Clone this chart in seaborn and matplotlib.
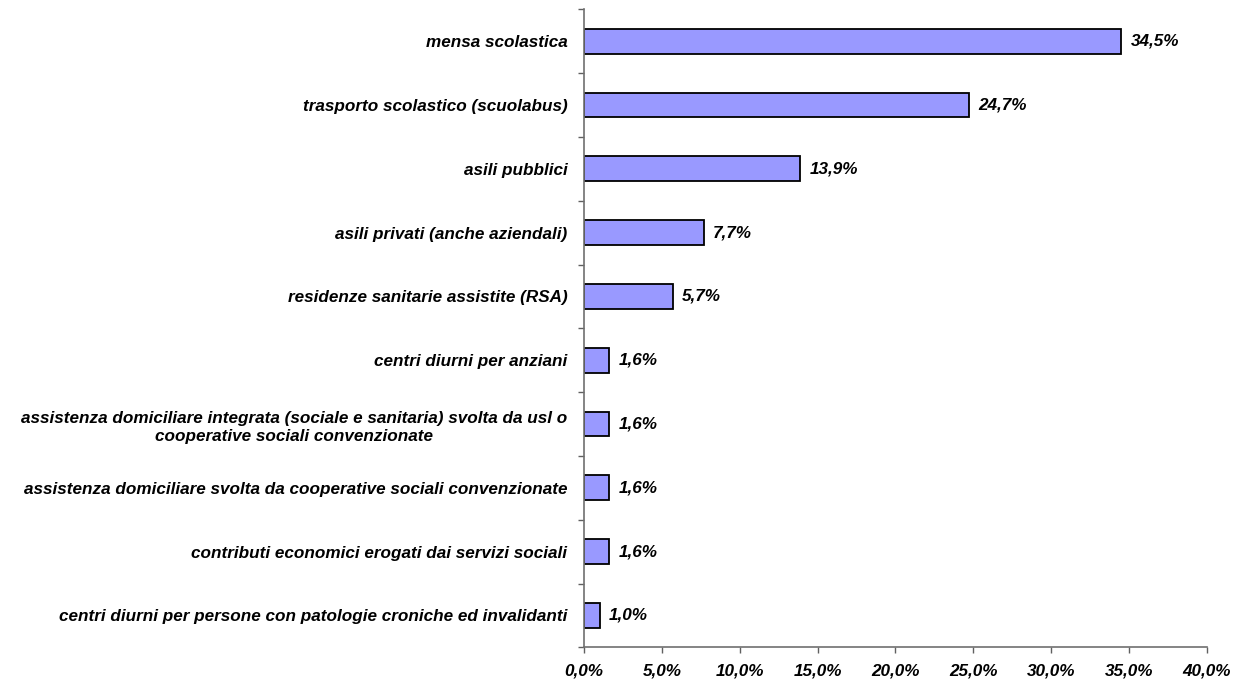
import matplotlib
matplotlib.use('Agg')
import matplotlib.pyplot as plt
from matplotlib.ticker import FuncFormatter, FixedLocator
import seaborn as sns
import pandas as pd

# Data
categories = [
    "mensa scolastica",
    "trasporto scolastico (scuolabus)",
    "asili pubblici",
    "asili privati (anche aziendali)",
    "residenze sanitarie assistite (RSA)",
    "centri diurni per anziani",
    "assistenza domiciliare integrata (sociale e sanitaria) svolta da usl o\ncooperative sociali convenzionate",
    "assistenza domiciliare svolta da cooperative sociali convenzionate",
    "contributi economici erogati dai servizi sociali",
    "centri diurni per persone con patologie croniche ed invalidanti",
]
values = [34.5, 24.7, 13.9, 7.7, 5.7, 1.6, 1.6, 1.6, 1.6, 1.0]

df = pd.DataFrame({"servizio": categories, "pct": values})

sns.set_style("white")
plt.rcParams['font.family'] = ['Liberation Sans', 'DejaVu Sans']
plt.rcParams['text.color'] = 'black'
plt.rcParams['xtick.color'] = 'black'
plt.rcParams['ytick.color'] = 'black'

FS = 12.3

fig = plt.figure(figsize=(12.36, 6.84), dpi=100)
ax = fig.add_axes([0.4725, 0.0536, 0.504, 0.9328])

sns.barplot(data=df, y="servizio", x="pct", orient="h", color="#9999FF",
            edgecolor="black", linewidth=1.3, width=0.39, saturation=1, ax=ax)

ax.set_xlim(0, 40)
ax.set_ylim(len(categories) - 0.5, -0.5)
ax.set_xticks(range(0, 45, 5))
ax.xaxis.set_major_formatter(FuncFormatter(lambda v, p: f"{v:.1f}%".replace(".", ",")))
ax.set_xlabel("")
ax.set_ylabel("")

# category separators as ticks on the y axis
ax.yaxis.set_minor_locator(FixedLocator([i - 0.5 for i in range(len(categories) + 1)]))
ax.tick_params(axis="y", which="major", left=True, length=0, pad=12)
ax.tick_params(axis="y", which="minor", left=True, length=4.5, color="#606060", width=1)
ax.tick_params(axis="x", which="major", bottom=True, length=4.5, color="#606060", width=1,
               pad=7, labelcolor="black")

for lbl in ax.get_yticklabels():
    lbl.set_fontweight("bold")
    lbl.set_fontstyle("italic")
    lbl.set_fontsize(FS)
    lbl.set_color("black")
    lbl.set_multialignment("center")
    lbl.set_linespacing(1.3)
for lbl in ax.get_xticklabels():
    lbl.set_fontweight("bold")
    lbl.set_fontstyle("italic")
    lbl.set_fontsize(FS)

for sp in ["top", "right"]:
    ax.spines[sp].set_visible(False)
for sp in ["left", "bottom"]:
    ax.spines[sp].set_color("#707070")
    ax.spines[sp].set_linewidth(1.2)

for i, v in enumerate(values):
    ax.text(v + 0.6, i, f"{v:.1f}%".replace(".", ","), va="center", ha="left",
            fontsize=FS, fontweight="bold", fontstyle="italic", color="black")

fig.savefig("out.png", dpi=100)
